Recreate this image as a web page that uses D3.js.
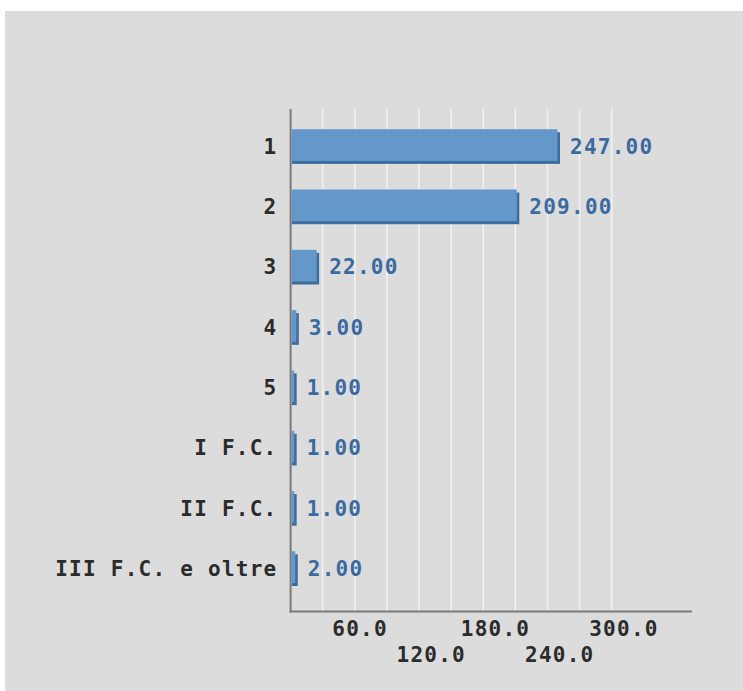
<!DOCTYPE html>
<html>
<head>
<meta charset="utf-8">
<script src="https://cdn.jsdelivr.net/npm/d3@7/dist/d3.min.js"></script>
<style>
  html, body { margin: 0; padding: 0; background: #ffffff; }
  svg { display: block; }
  text { font-family: "DejaVu Sans Mono", monospace; font-weight: bold; }
</style>
</head>
<body>
<script>
const categories = ["1", "2", "3", "4", "5", "I F.C.", "II F.C.", "III F.C. e oltre"];
const values = [247, 209, 22, 3, 1, 1, 1, 2];
const gridTicks = [30, 60, 90, 120, 150, 180, 210, 240, 270, 300];
const labelTicks = [60, 120, 180, 240, 300];

(function () {
const W = 743, H = 691;
const svg = d3.select("body").append("svg").attr("width", W).attr("height", H);

svg.append("rect").attr("x", 5).attr("y", 11).attr("width", W - 5).attr("height", H - 11).attr("fill", "#dcdcdc");

const x0 = 290.6;
const x = d3.scaleLinear().domain([0, 375]).range([x0, 692]);
const y = d3.scaleBand().domain(categories).range([116.55, 598.95]).paddingInner(0.42).paddingOuter(0.21);

const plotTop = 109, plotBottom = 611.5;
const FS = 21, LS = 1.25;

// gridlines
svg.append("g").selectAll("line").data(gridTicks).join("line")
  .attr("x1", d => x(d)).attr("x2", d => x(d))
  .attr("y1", plotTop).attr("y2", plotBottom)
  .attr("stroke", "#f2f2f2").attr("stroke-width", 1.6);

// bars
const bars = svg.append("g").selectAll("g").data(values).join("g");
const fh = 31.7;
bars.append("rect")
  .attr("x", x0 + 1.2)
  .attr("y", (d, i) => y(categories[i]) + 3)
  .attr("width", d => x(d) + 2.5 + 2.5 - (x0 + 1.2))
  .attr("height", fh)
  .attr("fill", "#3d6c9f");
bars.append("rect")
  .attr("x", x0 + 1.2)
  .attr("y", (d, i) => y(categories[i]))
  .attr("width", d => x(d) + 2.5 - (x0 + 1.2))
  .attr("height", fh)
  .attr("fill", "#6598ca");

// value labels
svg.append("g").selectAll("text").data(values).join("text")
  .attr("x", d => x(d) + 15)
  .attr("y", (d, i) => y(categories[i]) + y.bandwidth() / 2 + 7)
  .attr("font-size", FS)
  .attr("letter-spacing", LS)
  .attr("fill", "#3a6a9f")
  .text(d => d.toFixed(2));

// category labels
svg.append("g").selectAll("text").data(categories).join("text")
  .attr("x", 277.5)
  .attr("y", d => y(d) + y.bandwidth() / 2 + 7)
  .attr("text-anchor", "end")
  .attr("font-size", FS)
  .attr("letter-spacing", LS)
  .attr("fill", "#2b2b2b")
  .text(d => d);

// x axis via d3 axis
const xAxis = d3.axisBottom(x).tickValues(labelTicks).tickSize(0).tickFormat(d => d.toFixed(1));
const gx = svg.append("g").attr("transform", `translate(0,${plotBottom})`).call(xAxis);
gx.select(".domain").remove();
gx.selectAll(".tick text")
  .attr("text-anchor", "start")
  .attr("x", -23)
  .attr("y", (d, i) => i % 2 === 0 ? 24 : 50)
  .attr("dy", 0)
  .attr("font-size", FS)
  .attr("letter-spacing", LS)
  .attr("font-family", "DejaVu Sans Mono, monospace")
  .attr("font-weight", "bold")
  .attr("fill", "#2b2b2b");

// axis lines
svg.append("line").attr("x1", x0).attr("x2", x0).attr("y1", plotTop).attr("y2", plotBottom + 1)
  .attr("stroke", "#7a7a7a").attr("stroke-width", 2);
svg.append("line").attr("x1", x0 - 1).attr("x2", 692).attr("y1", plotBottom).attr("y2", plotBottom)
  .attr("stroke", "#7a7a7a").attr("stroke-width", 2);
})();
</script>
</body>
</html>
